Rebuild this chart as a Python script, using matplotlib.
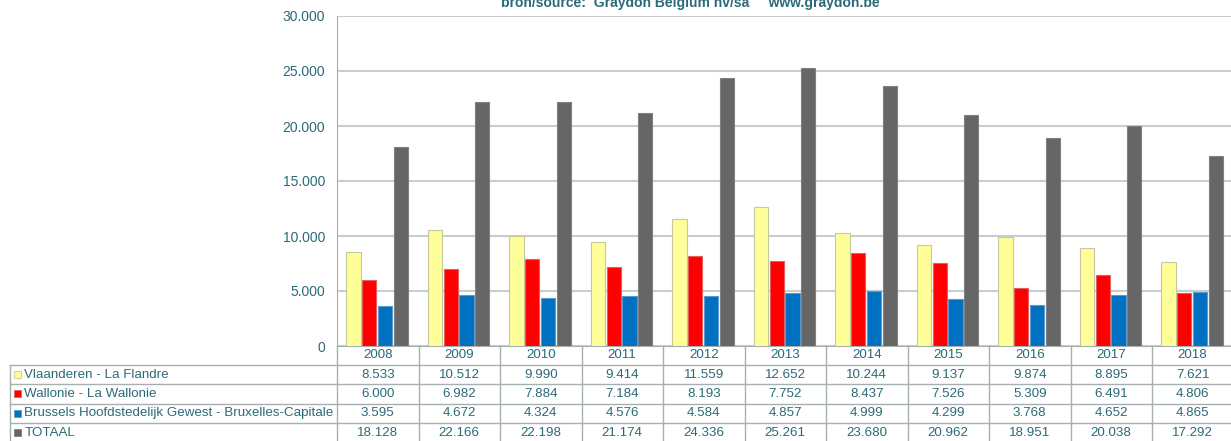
import matplotlib.pyplot as plt
import matplotlib.transforms as mtransforms
import numpy as np

plt.rcParams['font.family'] = ['Liberation Sans', 'DejaVu Sans']

years = ['2008', '2009', '2010', '2011', '2012', '2013', '2014', '2015', '2016', '2017', '2018']
vlaanderen = [8533, 10512, 9990, 9414, 11559, 12652, 10244, 9137, 9874, 8895, 7621]
wallonie = [6000, 6982, 7884, 7184, 8193, 7752, 8437, 7526, 5309, 6491, 4806]
brussel = [3595, 4672, 4324, 4576, 4584, 4857, 4999, 4299, 3768, 4652, 4865]
totaal = [18128, 22166, 22198, 21174, 24336, 25261, 23680, 20962, 18951, 20038, 17292]

series_names = ['Vlaanderen - La Flandre', 'Wallonie - La Wallonie',
                'Brussels Hoofdstedelijk Gewest - Bruxelles-Capitale', 'TOTAAL']
series = [vlaanderen, wallonie, brussel, totaal]
colors = ['#FFFF99', '#FF0000', '#0070C0', '#666666']
edges = ['#C8C8A0', '#E06060', '#5A9AD0', '#808080']

txt = '#2B6A78'
grid = '#C5CFCF'
line = '#A7B0B0'

W, H = 1231, 441
fig = plt.figure(figsize=(W / 100, H / 100), dpi=100)

# main plot area (runs slightly past the right edge, as in the original)
ax = fig.add_axes([337 / W, (H - 346) / H, (1233.5 - 337) / W, 330 / H])
x = np.arange(len(years))
offsets = [-0.2975, -0.107, 0.089, 0.285]
for vals, off, c, e in zip(series, offsets, colors, edges):
    ax.bar(x + off, vals, width=0.172, color=c, edgecolor=e, linewidth=0.8, zorder=3)

ax.set_xlim(-0.5, len(years) - 0.5)
ax.set_ylim(0, 30000)
ax.set_yticks(range(0, 30001, 5000))
ax.set_yticklabels(['0' if v == 0 else f'{v:,}'.replace(',', '.') for v in range(0, 30001, 5000)],
                   color=txt, fontsize=10)
ax.tick_params(axis='y', length=0, pad=8.5)
ax.set_xticks([])
ax.grid(axis='y', color=grid, linewidth=1.5, zorder=0)
for s in ['top', 'right']:
    ax.spines[s].set_visible(False)
ax.spines['left'].set_color(line)
ax.spines['bottom'].set_color(line)

fig.text(690 / W, 1 - 3 / H, 'bron/source:  Graydon Belgium nv/sa     www.graydon.be',
         ha='center', va='center', fontsize=10, fontweight='bold', color=txt)

# data table below the plot, in pixel coordinates
ov = fig.add_axes([0, 0, 1, 1], facecolor='none')
ov.set_xlim(0, W)
ov.set_ylim(H, 0)
ov.axis('off')
blend = mtransforms.blended_transform_factory(ax.transData, ov.transData)

row_lines = [346, 365, 384, 403.5, 423]
for y in row_lines[1:]:
    ov.plot([10, W + 5], [y, y], color=line, lw=1, clip_on=False)
ov.plot([10, 10], [365, H + 5], color=line, lw=1)
for b in np.arange(len(years) + 1) - 0.5:
    ov.plot([b, b], [346, H + 5], color=line, lw=1, transform=blend, clip_on=False)

fs = 9.6
row_mid = [355.5, 374.5, 393.8, 413.2, 432.5]
for i, yr in enumerate(years):
    ov.text(i, row_mid[0], yr, transform=blend, ha='center', va='center', color=txt, fontsize=fs)
    for r, vals in enumerate(series):
        ov.text(i, row_mid[r + 1], f'{vals[i]:,}'.replace(',', '.'), transform=blend,
                ha='center', va='center', color=txt, fontsize=fs)

for r, (name, c, e) in enumerate(zip(series_names, colors, edges)):
    ym = row_mid[r + 1]
    ov.add_patch(plt.Rectangle((13.5, ym - 3.5), 7, 7, facecolor=c, edgecolor=e, lw=0.6))
    ov.text(24.5, ym, name, ha='left', va='center', color=txt, fontsize=fs)

fig.savefig('out.png', dpi=100)
